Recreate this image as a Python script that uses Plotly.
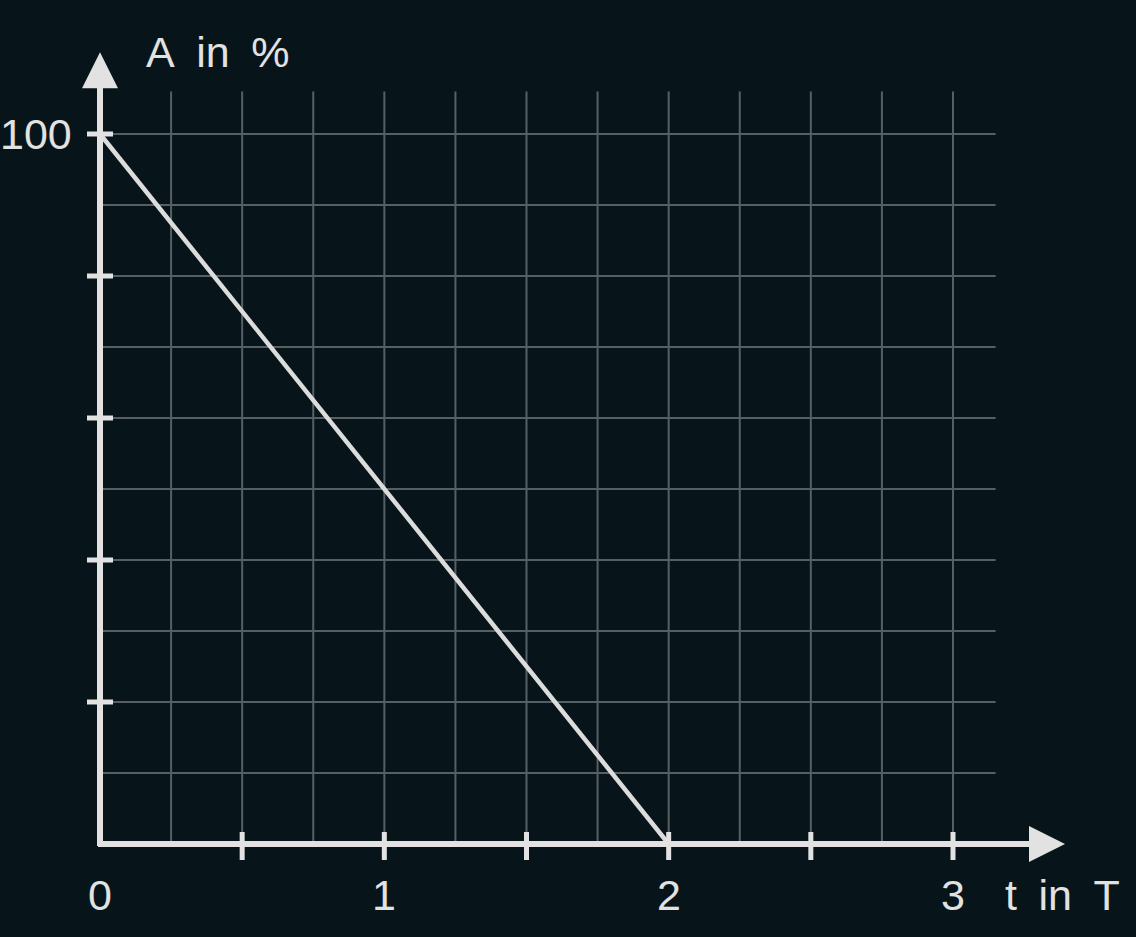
import plotly.graph_objects as go

# data
t_values = [0, 2]
a_values = [100, 0]

x_ticks = [0.5, 1, 1.5, 2, 2.5, 3]
x_tick_labels = ["0", "1", "2", "3"]
x_label_pos = [0, 1, 2, 3]
y_ticks = [20, 40, 60, 80, 100]
y_tick_labels = ["100"]
y_label_pos = [100]

x_grid = [0.25 * i for i in range(1, 13)]
y_grid = [10 * i for i in range(1, 11)]

BG = "#07151a"
GRID = "#566064"
AXIS = "#e2e2e2"
FONT = "Liberation Sans"

# pixel mapping: x=0 -> 100px, x=3 -> 953px ; y=0 -> 844px, y=100 -> 134px
px_x = (953 - 100) / 3.0
px_y = (844 - 134) / 100.0
x0 = -100 / px_x
x1 = x0 + 1136 / px_x
y1 = 844 / px_y
y0 = y1 - 937 / px_y

fig = go.Figure()

shapes = []
for gx in x_grid:
    shapes.append(dict(type="line", x0=gx, x1=gx, y0=0, y1=106,
                       line=dict(color=GRID, width=2), layer="below"))
for gy in y_grid:
    shapes.append(dict(type="line", x0=0, x1=3.15, y0=gy, y1=gy,
                       line=dict(color=GRID, width=2), layer="below"))

# axes
shapes.append(dict(type="line", x0=-2 / px_x, x1=3.3, y0=0, y1=0, line=dict(color=AXIS, width=6)))
shapes.append(dict(type="line", x0=0, x1=0, y0=-2 / px_y, y1=107, line=dict(color=AXIS, width=6)))

# ticks crossing the axes
for tx in x_ticks:
    shapes.append(dict(type="line", x0=tx, x1=tx, y0=-16 / px_y, y1=12 / px_y,
                       line=dict(color=AXIS, width=5)))
for ty in y_ticks:
    shapes.append(dict(type="line", x0=-13 / px_x, x1=13 / px_x, y0=ty, y1=ty,
                       line=dict(color=AXIS, width=5)))

fig.add_trace(go.Scatter(x=t_values, y=a_values, mode="lines",
                         line=dict(color="#dcdcdc", width=4.5), hoverinfo="skip"))

annotations = []
# arrow heads
annotations.append(dict(x=3.394, y=0, ax=3.25, ay=0, xref="x", yref="y", axref="x", ayref="y",
                        showarrow=True, arrowhead=2, arrowsize=1.2, arrowwidth=6,
                        arrowcolor=AXIS, text=""))
annotations.append(dict(x=0, y=111.5, ax=0, ay=104, xref="x", yref="y", axref="x", ayref="y",
                        showarrow=True, arrowhead=2, arrowsize=1.2, arrowwidth=6,
                        arrowcolor=AXIS, text=""))

label_font = dict(family=FONT, size=43, color=AXIS)
for lx, lt in zip(x_label_pos, x_tick_labels):
    annotations.append(dict(x=lx, y=-51 / px_y, text=lt, showarrow=False, borderpad=0,
                            xanchor="center", yanchor="middle", font=label_font))
for ly, lt in zip(y_label_pos, y_tick_labels):
    annotations.append(dict(x=-27 / px_x, y=ly, text=lt, showarrow=False, borderpad=0,
                            xanchor="right", yanchor="middle", font=label_font))

annotations.append(dict(x=3.18, y=-51 / px_y, text="t\u2002in\u2002T", showarrow=False,
                        borderpad=0, xanchor="left", yanchor="middle", font=label_font))
annotations.append(dict(x=45 / px_x, y=111.5, text="A\u2002in\u2002%", showarrow=False,
                        borderpad=0, xanchor="left", yanchor="middle", font=label_font))

fig.update_layout(
    width=1136, height=937,
    margin=dict(l=0, r=0, t=0, b=0),
    paper_bgcolor=BG, plot_bgcolor=BG,
    showlegend=False,
    shapes=shapes,
    annotations=annotations,
    xaxis=dict(range=[x0, x1], visible=False, fixedrange=True),
    yaxis=dict(range=[y0, y1], visible=False, fixedrange=True),
)

fig.write_html(
    "out.html",
    config={"displayModeBar": False},
    post_script="document.body.style.margin='0';"
                "document.body.style.background='" + BG + "';"
                "document.body.style.overflow='hidden';",
)
